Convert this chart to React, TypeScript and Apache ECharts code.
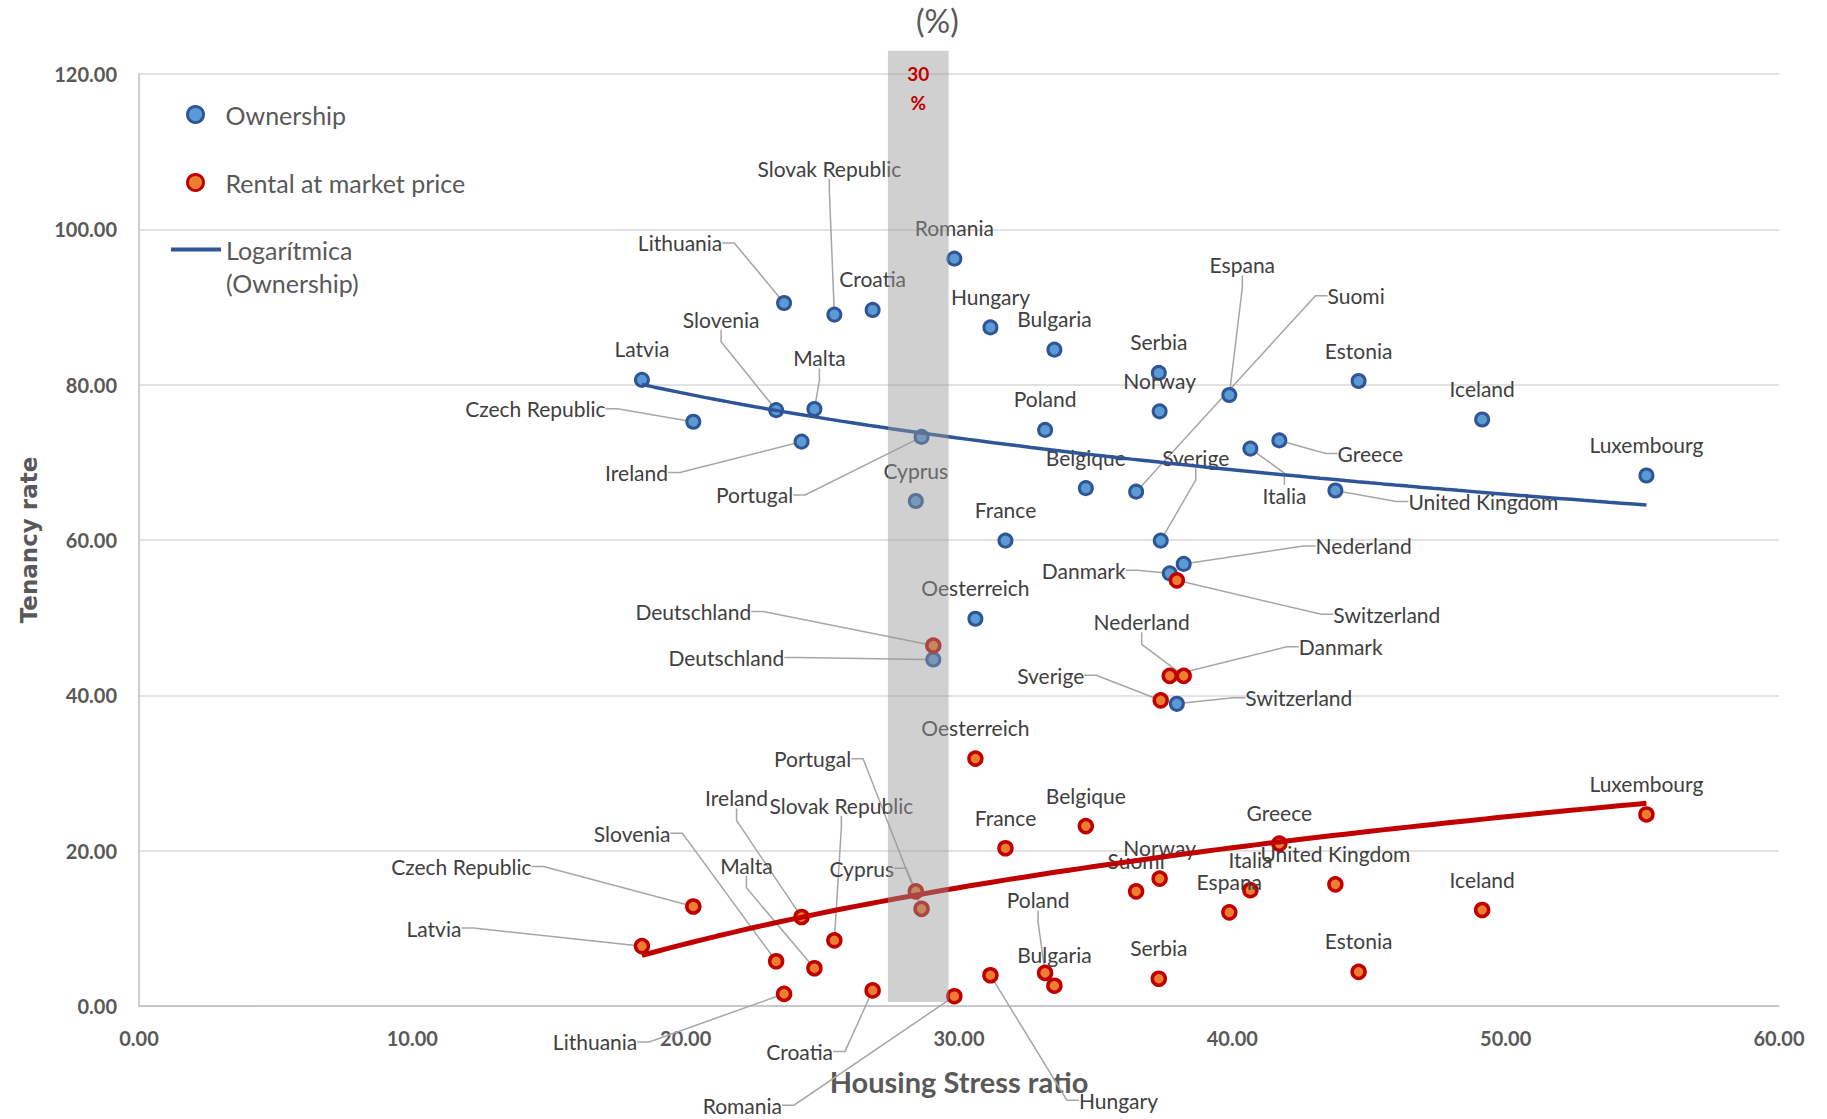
import React, { useEffect, useRef } from 'react';
import * as echarts from 'echarts';

// ---------- DATA ----------
const countries = [
  'Latvia', 'Czech Republic', 'Lithuania', 'Slovenia', 'Ireland', 'Malta', 'Slovak Republic', 'Croatia',
  'Cyprus', 'Portugal', 'Deutschland', 'Romania', 'Oesterreich', 'Hungary', 'France', 'Poland',
  'Bulgaria', 'Belgique', 'Suomi', 'Serbia', 'Norway', 'Sverige', 'Danmark', 'Switzerland',
  'Nederland', 'Espana', 'Italia', 'Greece', 'United Kingdom', 'Estonia', 'Iceland', 'Luxembourg',
];

const housingStressRatio = [
  18.40, 20.28, 23.60, 23.31, 24.24, 24.71, 25.44, 26.84,
  28.42, 28.63, 29.06, 29.83, 30.60, 31.15, 31.70, 33.15,
  33.49, 34.64, 36.48, 37.31, 37.34, 37.38, 37.71, 37.97,
  38.22, 39.89, 40.66, 41.72, 43.77, 44.62, 49.14, 55.15,
];

const ownershipRate = [
  80.62, 75.22, 90.52, 76.72, 72.67, 76.87, 89.02, 89.62,
  65.02, 73.27, 44.61, 96.22, 49.86, 87.37, 59.92, 74.17,
  84.51, 66.67, 66.22, 81.51, 76.57, 59.92, 55.71, 38.91,
  56.92, 78.67, 71.77, 72.82, 66.37, 80.47, 75.51, 68.31,
];

const rentalRate = [
  7.71, 12.81, 1.56, 5.76, 11.46, 4.86, 8.46, 2.01,
  14.76, 12.51, 46.41, 1.26, 31.86, 3.96, 20.31, 4.26,
  2.61, 23.16, 14.76, 3.51, 16.41, 39.36, 42.51, 54.81,
  42.51, 12.06, 14.91, 20.91, 15.66, 4.40, 12.36, 24.66,
];

// highlighted stress band: [xStart, xEnd, yBottom, yTop]
const bandRange = [27.4, 29.62, 0.5, 123];
const bandLabel = '30\n%';

const xTicks = { min: 0, max: 60, interval: 10 };
const yTicks = { min: 0, max: 120, interval: 20 };

// ---------- LABEL LAYOUT (pixel offsets of label centre from its point) ----------
const defaultLabelOffset = [0, -31];
const ownershipLabelOffsets: Record<string, number[]> = {
  'Czech Republic': [-158, -13],
  'Lithuania': [-104, -60],
  'Slovenia': [-55, -91],
  'Ireland': [-165, 31],
  'Malta': [5, -51],
  'Slovak Republic': [-5, -146],
  'Portugal': [-167, 58],
  'Deutschland': [-207, -2],
  'Suomi': [220, -196],
  'Sverige': [35, -83],
  'Danmark': [-86, -3],
  'Switzerland': [122, -6],
  'Nederland': [180, -18],
  'Espana': [13, -130],
  'Italia': [34, 47],
  'Greece': [91, 13],
  'United Kingdom': [148, 11],
};
const rentalLabelOffsets: Record<string, number[]> = {
  'Latvia': [-208, -18],
  'Czech Republic': [-232, -40],
  'Lithuania': [-189, 48],
  'Slovenia': [-144, -128],
  'Ireland': [-65, -119],
  'Malta': [-68, -103],
  'Slovak Republic': [7, -135],
  'Croatia': [-73, 61],
  'Cyprus': [-54, -23],
  'Portugal': [-109, -150],
  'Deutschland': [-240, -34],
  'Romania': [-212, 109],
  'Hungary': [128, 125],
  'Poland': [-7, -73],
  'Sverige': [-110, -25],
  'Danmark': [171, -29],
  'Switzerland': [210, 34],
  'Nederland': [-42, -54],
};

const FONT = "Lato, 'Open Sans', 'Liberation Sans', sans-serif";

function logFit(xs: number[], ys: number[]) {
  const n = xs.length;
  let sx = 0, sy = 0, sxx = 0, sxy = 0;
  for (let i = 0; i < n; i++) {
    const lx = Math.log(xs[i]);
    sx += lx; sy += ys[i]; sxx += lx * lx; sxy += lx * ys[i];
  }
  const b = (n * sxy - sx * sy) / (n * sxx - sx * sx);
  const a = (sy - b * sx) / n;
  return { a, b };
}

function trendLine(xs: number[], ys: number[]) {
  const { a, b } = logFit(xs, ys);
  const lo = Math.min(...xs);
  const hi = Math.max(...xs);
  const pts: number[][] = [];
  const steps = 80;
  for (let i = 0; i <= steps; i++) {
    const x = lo + ((hi - lo) * i) / steps;
    pts.push([x, a + b * Math.log(x)]);
  }
  return pts;
}

function buildScatterData(values: number[], offsets: Record<string, number[]>) {
  return countries.map((c, i) => ({
    name: c,
    value: [housingStressRatio[i], values[i]],
    labelLine: { show: !!offsets[c] },
  }));
}

export default function App() {
  const ref = useRef<HTMLDivElement>(null);

  useEffect(() => {
    if (!ref.current) return;
    const chart = echarts.init(ref.current, undefined, { renderer: 'svg' });

    const labelCommon = {
      show: true,
      position: 'inside',
      formatter: '{b}',
      color: '#404040',
      fontFamily: FONT,
      fontSize: 21,
      textBorderWidth: 0,
    };
    const labelLineCommon = {
      length2: 12,
      lineStyle: { color: '#A6A6A6', width: 1.5 },
    };

    const option: any = {
      animation: false,
      backgroundColor: '#ffffff',
      title: {
        text: '(%)',
        left: 916,
        top: 4,
        padding: 0,
        textStyle: { fontFamily: FONT, fontSize: 32, fontWeight: 'normal', color: '#595959' },
      },
      legend: [
        {
          data: ['Ownership', 'Rental at market price'],
          orient: 'vertical',
          left: 186,
          top: 102,
          padding: 0,
          itemWidth: 50,
          itemHeight: 16,
          itemGap: 43,
          selectedMode: false,
          itemStyle: { borderWidth: 3 },
          textStyle: { fontFamily: FONT, fontSize: 25, color: '#595959', lineHeight: 24 },
        },
        {
          data: [{ name: 'Logarítmica (Ownership)', icon: 'rect' }],
          orient: 'vertical',
          left: 171,
          top: 200,
          padding: 0,
          itemWidth: 50,
          itemHeight: 4,
          selectedMode: false,
          formatter: () => ' \nLogarítmica\n(Ownership)',
          itemStyle: { color: '#2F5597', borderWidth: 0 },
          textStyle: { fontFamily: FONT, fontSize: 25, color: '#595959', lineHeight: 33 },
        },
      ],
      grid: { left: 139, right: 48, top: 74, bottom: 113, containLabel: false },
      xAxis: {
        type: 'value',
        min: xTicks.min,
        max: xTicks.max,
        interval: xTicks.interval,
        name: 'Housing Stress ratio',
        nameLocation: 'middle',
        nameGap: 61,
        nameTextStyle: { fontFamily: FONT, fontSize: 29, fontWeight: 'bold', color: '#595959' },
        axisLine: { show: true, lineStyle: { color: '#BFBFBF', width: 1.5 } },
        axisTick: { show: false },
        splitLine: { show: false },
        axisLabel: {
          margin: 22,
          fontFamily: FONT,
          fontSize: 20,
          fontWeight: 'bold',
          color: '#595959',
          formatter: (v: number) => v.toFixed(2),
        },
      },
      yAxis: {
        type: 'value',
        min: yTicks.min,
        max: yTicks.max,
        interval: yTicks.interval,
        name: 'Tenancy rate',
        nameLocation: 'middle',
        nameRotate: 90,
        nameGap: 99,
        nameTextStyle: { fontFamily: "'DejaVu Sans', Verdana, sans-serif", fontSize: 23, fontWeight: 'bold', color: '#595959' },
        axisLine: { show: true, lineStyle: { color: '#BFBFBF', width: 1.5 } },
        axisTick: { show: false },
        splitLine: { show: true, lineStyle: { color: '#D9D9D9', width: 1.5 } },
        axisLabel: {
          margin: 22,
          fontFamily: FONT,
          fontSize: 20,
          fontWeight: 'bold',
          color: '#595959',
          formatter: (v: number) => v.toFixed(2),
        },
      },
      series: [
        {
          name: 'Ownership',
          type: 'scatter',
          z: 2,
          symbol: 'circle',
          symbolSize: 13,
          itemStyle: { color: '#5B9BD5', borderColor: '#2F5597', borderWidth: 3, opacity: 1 },
          data: buildScatterData(ownershipRate, ownershipLabelOffsets),
          label: labelCommon,
          labelLine: labelLineCommon,
          labelLayout: (p: any) => {
            const o = ownershipLabelOffsets[countries[p.dataIndex]] || defaultLabelOffset;
            return { dx: o[0], dy: o[1] };
          },
          emphasis: { disabled: true },
        },
        {
          name: 'Rental at market price',
          type: 'scatter',
          z: 2,
          symbol: 'circle',
          symbolSize: 13,
          itemStyle: { color: '#ED7D31', borderColor: '#C00000', borderWidth: 3.5, opacity: 1 },
          data: buildScatterData(rentalRate, rentalLabelOffsets),
          label: labelCommon,
          labelLine: labelLineCommon,
          labelLayout: (p: any) => {
            const o = rentalLabelOffsets[countries[p.dataIndex]] || defaultLabelOffset;
            return { dx: o[0], dy: o[1] };
          },
          emphasis: { disabled: true },
        },
        {
          name: 'Logarítmica (Ownership)',
          type: 'line',
          z: 3,
          symbol: 'none',
          smooth: false,
          silent: true,
          data: trendLine(housingStressRatio, ownershipRate),
          lineStyle: { color: '#2F5597', width: 3.5 },
          itemStyle: { color: '#2F5597' },
        },
        {
          name: 'Logarítmica (Rental at market price)',
          type: 'line',
          z: 3,
          symbol: 'none',
          smooth: false,
          silent: true,
          data: trendLine(housingStressRatio, rentalRate),
          lineStyle: { color: '#C00000', width: 5 },
          itemStyle: { color: '#C00000' },
        },
        {
          name: 'band',
          type: 'custom',
          z: 4,
          clip: false,
          silent: true,
          encode: { x: [0, 1], y: [2, 3] },
          data: [bandRange],
          renderItem: (_params: any, api: any) => {
            const p0 = api.coord([api.value(0), api.value(3)]);
            const p1 = api.coord([api.value(1), api.value(2)]);
            return {
              type: 'group',
              children: [
                {
                  type: 'rect',
                  shape: { x: p0[0], y: p0[1], width: p1[0] - p0[0], height: p1[1] - p0[1] },
                  style: { fill: 'rgba(150,150,150,0.45)' },
                },
                {
                  type: 'text',
                  x: (p0[0] + p1[0]) / 2,
                  y: p0[1] + 8,
                  style: {
                    text: bandLabel,
                    fill: '#C00000',
                    fontFamily: FONT,
                    fontSize: 19,
                    fontWeight: 'bold',
                    lineHeight: 29,
                    align: 'center',
                    verticalAlign: 'top',
                  },
                },
              ],
            };
          },
        },
      ],
    };

    chart.setOption(option);
    return () => chart.dispose();
  }, []);

  return (
    <div
      ref={ref}
      style={{ position: 'fixed', left: 0, top: 0, width: 1827, height: 1119, background: '#fff' }}
    />
  );
}
